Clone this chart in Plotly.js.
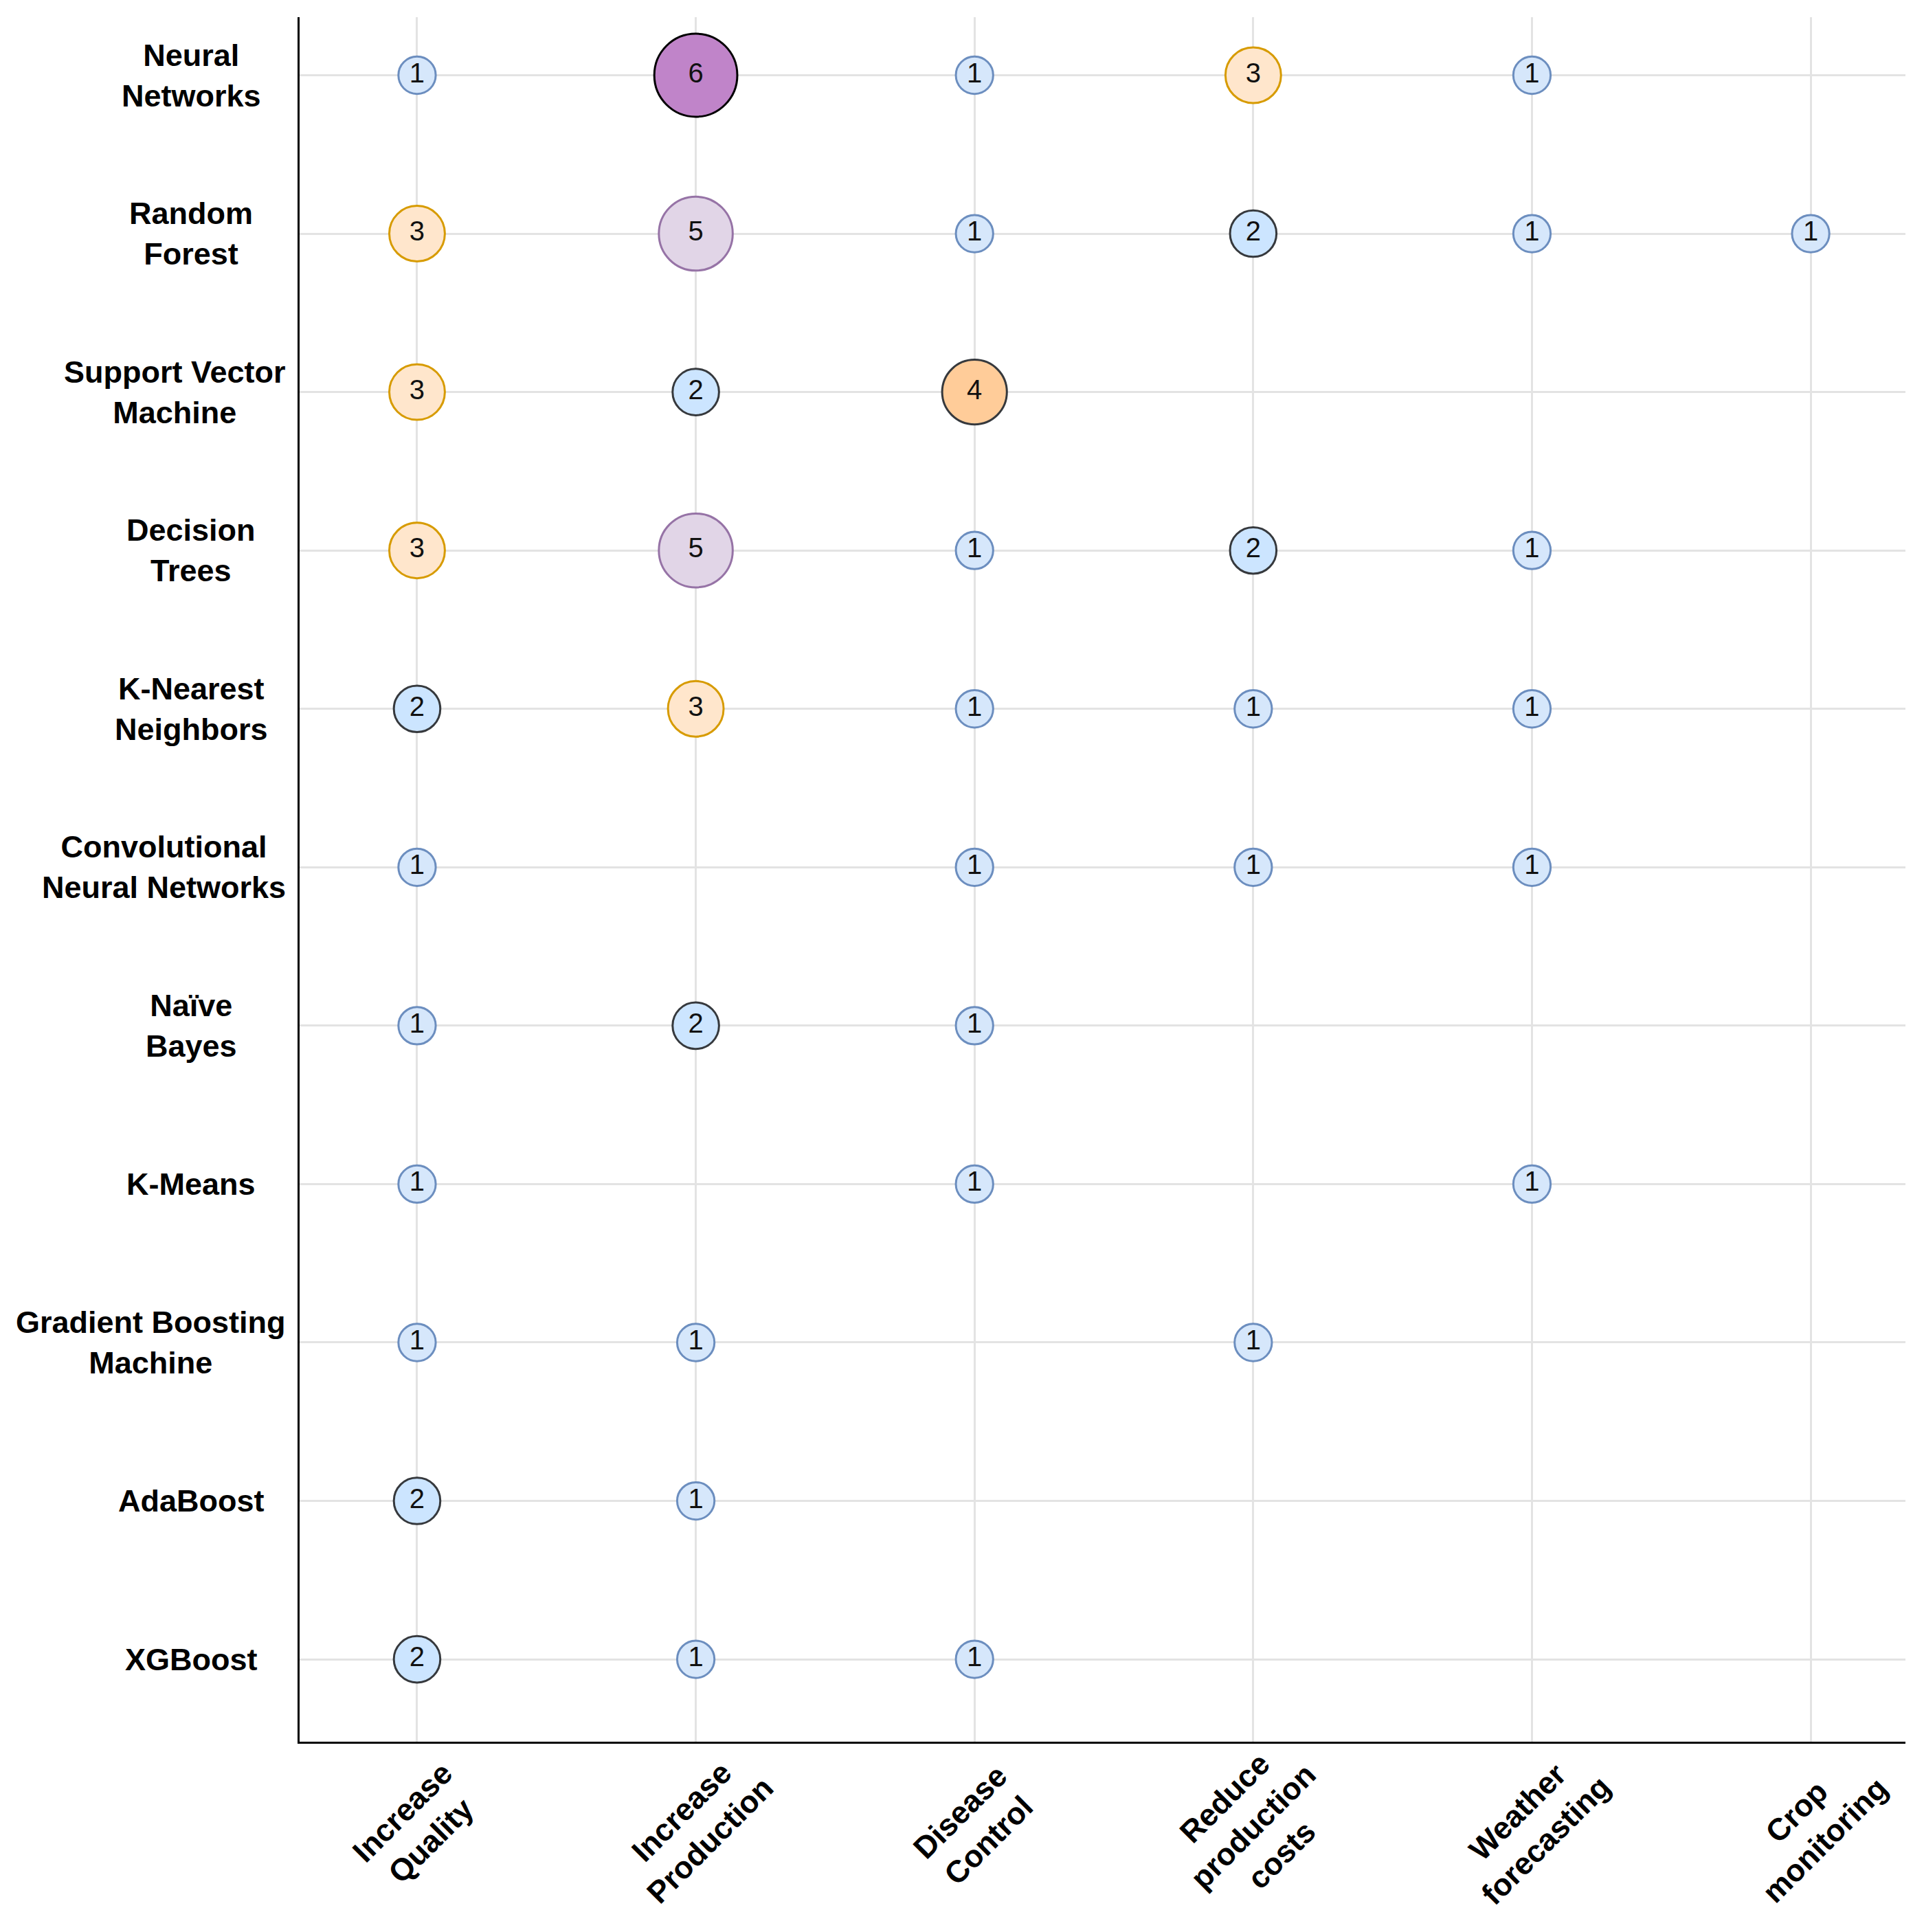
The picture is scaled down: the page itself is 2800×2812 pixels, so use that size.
<!DOCTYPE html>
<html>
<head>
<meta charset="utf-8">
<script src="https://cdn.plot.ly/plotly-3.0.1.min.js"></script>
<style>
html,body{margin:0;padding:0;background:#ffffff;}
#chart{width:2800px;height:2812px;}
</style>
</head>
<body>
<div id="chart"></div>
<script>
// ---- Data ----
const applications = ['Increase Quality', 'Increase Production', 'Disease Control',
  'Reduce production costs', 'Weather forecasting', 'Crop monitoring'];
const applicationLabels = ['Increase<br>Quality', 'Increase<br>Production', 'Disease<br>Control',
  'Reduce<br>production<br>costs', 'Weather<br>forecasting', 'Crop<br>monitoring'];

const methods = ['Neural Networks', 'Random Forest', 'Support Vector Machine', 'Decision Trees',
  'K-Nearest Neighbors', 'Convolutional Neural Networks', 'Naïve Bayes', 'K-Means',
  'Gradient Boosting Machine', 'AdaBoost', 'XGBoost'];
const methodLabels = ['Neural<br>Networks', 'Random<br>Forest', 'Support Vector<br>Machine', 'Decision<br>Trees',
  'K-Nearest<br>Neighbors', 'Convolutional<br>Neural Networks', 'Naïve<br>Bayes', 'K-Means',
  'Gradient Boosting<br>Machine', 'AdaBoost', 'XGBoost'];

// counts per method, in the order of `applications` (null = no study)
const neuralNetworks              = [1, 6, 1, 3, 1, null];
const randomForest                = [3, 5, 1, 2, 1, 1];
const supportVectorMachine        = [3, 2, 4, null, null, null];
const decisionTrees               = [3, 5, 1, 2, 1, null];
const kNearestNeighbors           = [2, 3, 1, 1, 1, null];
const convolutionalNeuralNetworks = [1, null, 1, 1, 1, null];
const naiveBayes                  = [1, 2, 1, null, null, null];
const kMeans                      = [1, null, 1, null, 1, null];
const gradientBoostingMachine     = [1, 1, null, 1, null, null];
const adaBoost                    = [2, 1, null, null, null, null];
const xgBoost                     = [2, 1, 1, null, null, null];

const rows = [neuralNetworks, randomForest, supportVectorMachine, decisionTrees,
  kNearestNeighbors, convolutionalNeuralNetworks, naiveBayes, kMeans,
  gradientBoostingMachine, adaBoost, xgBoost];

// ---- Styles ----
const fillByCount   = {1:'#d6e7fb', 2:'#cce5ff', 3:'#ffe6cc', 4:'#ffcc99', 5:'#e1d5e7', 6:'#c084c9'};
const strokeByCount = {1:'#6c8ebf', 2:'#36393d', 3:'#d79b00', 4:'#36393d', 5:'#9673a6', 6:'#000000'};
const sizeOf = v => 41 + 13.3 * v;
const FONT = 'Liberation Sans, Arial, Helvetica, sans-serif';

const xs = [], ys = [], vs = [];
rows.forEach((row, i) => {
  row.forEach((v, j) => {
    if (v !== null) { xs.push(applications[j]); ys.push(methods[i]); vs.push(v); }
  });
});

const trace = {
  type: 'scatter',
  mode: 'markers+text',
  x: xs, y: ys,
  text: vs.map(String),
  textposition: 'middle center',
  textfont: {family: FONT, size: 40, color: '#111111'},
  marker: {
    size: vs.map(sizeOf),
    color: vs.map(v => fillByCount[v]),
    line: {color: vs.map(v => strokeByCount[v]), width: 3},
    opacity: 1
  },
  hoverinfo: 'skip',
  cliponaxis: false,
  showlegend: false
};

const annotations = [];
methods.forEach((m, i) => {
  const lines = methodLabels[i].split('<br>');
  const maxLen = Math.max(...lines.map(s => s.length));
  const wide = maxLen * 27 > 280;
  annotations.push({
    xref: 'paper', yref: 'y',
    x: wide ? -0.0077 : -0.0676, y: m,
    xanchor: wide ? 'right' : 'center', yanchor: 'middle',
    align: 'center', showarrow: false,
    text: methodLabels[i],
    font: {family: FONT, size: 45, color: '#000000', weight: 'bold'}
  });
});
applications.forEach((a, j) => {
  annotations.push({
    xref: 'x', yref: 'paper',
    x: a, y: -0.049,
    xanchor: 'center', yanchor: 'middle',
    align: 'center', showarrow: false, textangle: -45,
    text: applicationLabels[j],
    font: {family: FONT, size: 45, color: '#000000', weight: 'bold'}
  });
});

const layout = {
  width: 2800, height: 2812,
  margin: {l: 436, r: 27, t: 25, b: 277, pad: 0},
  paper_bgcolor: '#ffffff', plot_bgcolor: '#ffffff',
  font: {family: FONT, color: '#000000'},
  showlegend: false,
  xaxis: {
    type: 'category', categoryorder: 'array', categoryarray: applications,
    range: [-0.4215, 5.34], fixedrange: true,
    showgrid: true, gridcolor: '#e3e3e3', gridwidth: 3,
    showticklabels: false, ticks: '',
    showline: true, linecolor: '#000000', linewidth: 3, mirror: false,
    zeroline: false
  },
  yaxis: {
    type: 'category', categoryorder: 'array', categoryarray: methods,
    range: [10.52, -0.3665], fixedrange: true,
    showgrid: true, gridcolor: '#e3e3e3', gridwidth: 3,
    showticklabels: false, ticks: '',
    showline: true, linecolor: '#000000', linewidth: 3, mirror: false,
    zeroline: false
  },
  annotations: annotations
};

Plotly.newPlot('chart', [trace], layout, {staticPlot: true, displayModeBar: false});
</script>
</body>
</html>
